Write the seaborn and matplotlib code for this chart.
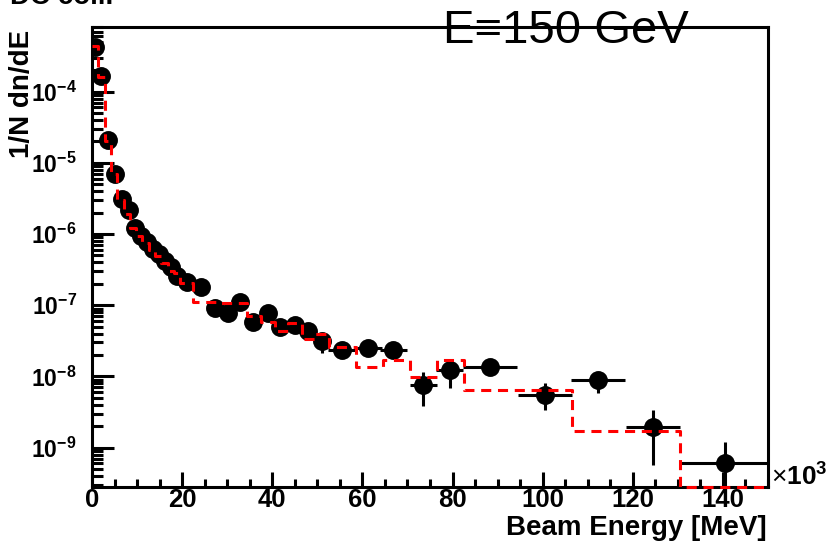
import matplotlib
matplotlib.use("Agg")
import matplotlib.pyplot as plt
import seaborn as sns
import numpy as np
from matplotlib.ticker import LogLocator, FuncFormatter, MultipleLocator, NullFormatter

# ---------------- data ----------------
# data points: bin centres (x10^3 MeV) and 1/N dn/dE
energy = [0.7, 2.0, 3.6, 5.2, 6.7, 8.1, 9.5, 10.9, 12.2, 13.5, 14.9, 16.2, 17.5, 18.9,
          21.1, 24.2, 27.3, 30.2, 32.8, 35.8, 39.1, 41.7, 45.0, 48.0, 51.0,
          55.4, 61.3, 66.8, 73.5, 79.4, 88.3, 100.5, 112.3, 124.5, 140.4]
dnde = [4.25e-4, 1.66e-4, 2.1e-5, 7.0e-6, 3.1e-6, 2.2e-6, 1.21e-6, 9.4e-7, 7.8e-7, 6.2e-7,
        5.2e-7, 4.2e-7, 3.45e-7, 2.6e-7, 2.1e-7, 1.8e-7, 9.2e-8, 7.8e-8, 1.11e-7, 5.9e-8,
        7.7e-8, 5.0e-8, 5.3e-8, 4.3e-8, 3.1e-8, 2.35e-8, 2.5e-8, 2.35e-8, 7.6e-9, 1.23e-8,
        1.37e-8, 5.5e-9, 8.9e-9, 1.97e-9, 6.0e-10]
# horizontal half bin widths
energy_err = [0.7] * 14 + [1.5] * 11 + [3.0] * 5 + [6.0] * 4 + [9.75]
# vertical errors (lower, upper); zero where hidden behind the marker
dnde_err_lo = [0] * 24 + [0.95e-8, 0, 0, 0, 3.8e-9, 5.4e-9, 0, 2.1e-9, 3.0e-9, 1.4e-9, 5.9e-10]
dnde_err_hi = [0] * 24 + [0, 0, 0, 0, 4.1e-9, 0, 0, 2.6e-9, 0, 1.43e-9, 6.0e-10]

# simulation histogram (red dashed): bin edges and contents
sim_edges = [0, 1.4, 2.8, 4.2, 5.6, 7.0, 8.4, 9.8, 11.2, 12.6, 14.0, 15.4, 16.8, 18.2, 19.5,
             22.5, 25.5, 28.5, 31.5, 34.5, 37.5, 40.5, 43.5, 46.5, 49.5, 52.5,
             58.5, 64.5, 70.5, 76.5, 82.5, 94.5, 106.5, 118.5, 130.5, 150]
sim_vals = [4.4e-4, 1.6e-4, 2.0e-5, 7.0e-6, 3.0e-6, 1.9e-6, 1.2e-6, 9.5e-7, 7.6e-7, 6.0e-7,
            4.9e-7, 3.9e-7, 3.0e-7, 2.8e-7,
            2.05e-7, 1.12e-7, 1.12e-7, 1.07e-7, 1.07e-7, 7.0e-8, 5.9e-8, 4.3e-8, 5.6e-8, 3.4e-8, 3.9e-8,
            2.6e-8, 1.36e-8, 1.7e-8, 9.9e-9, 1.7e-8, 6.5e-9, 6.4e-9, 1.74e-9, 1.74e-9, 2.8e-10]

x_ticks = [0, 20, 40, 60, 80, 100, 120, 140]
x_label = "Beam Energy [MeV]"
y_label = "1/N dn/dE"
title = "E=150 GeV"

# ---------------- style ----------------
sns.set_theme(style="white")
plt.rcParams['font.family'] = ['Liberation Sans', 'DejaVu Sans']
plt.rcParams['mathtext.fontset'] = 'custom'
plt.rcParams['mathtext.rm'] = 'Liberation Sans'
plt.rcParams['mathtext.bf'] = 'Liberation Sans:bold'
plt.rcParams['mathtext.it'] = 'Liberation Sans:italic'
for k in ['text.color', 'axes.labelcolor', 'xtick.color', 'ytick.color', 'axes.edgecolor']:
    plt.rcParams[k] = 'black'

W, H = 835, 545
fig = plt.figure(figsize=(W / 100, H / 100), dpi=100)
ax = fig.add_axes([92 / W, 1 - 487 / H, (768 - 92) / W, (487 - 27) / H])

# data error bars and markers
ax.errorbar(energy, dnde, xerr=energy_err, yerr=[dnde_err_lo, dnde_err_hi],
            fmt='none', ecolor='black', elinewidth=2.2, capsize=0, zorder=3)
sns.scatterplot(x=energy, y=dnde, ax=ax, color='black', s=185, linewidth=0, zorder=4)

# red dashed simulation histogram (drawn over the markers)
line_y = sim_vals + [sim_vals[-1]]
sns.lineplot(x=sim_edges, y=line_y, ax=ax, color='red', lw=2.2,
             drawstyle='steps-post', estimator=None, sort=False, zorder=6)
red = ax.get_lines()[-1]
red.set_dashes((3.3, 2.2))
red.set_clip_on(False)

ax.set_yscale('log')
ax.set_xlim(0, 150)
ax.set_ylim(2.8e-10, 8.1e-4)

ax.xaxis.set_major_locator(plt.FixedLocator(x_ticks))
ax.xaxis.set_minor_locator(MultipleLocator(5))
ax.set_xticklabels([str(v) for v in x_ticks], fontweight='bold', fontsize=18.5)

ax.yaxis.set_major_locator(LogLocator(base=10, numticks=20))
ax.yaxis.set_minor_locator(LogLocator(base=10, subs=np.arange(2, 10), numticks=20))
ax.yaxis.set_major_formatter(FuncFormatter(lambda v, p: r'$\mathbf{10^{%d}}$' % round(np.log10(v))))
ax.yaxis.set_minor_formatter(NullFormatter())

ax.tick_params(axis='both', which='both', direction='in', color='black', width=2.2,
               top=False, right=False, left=True, bottom=True, labelcolor='black')
ax.tick_params(axis='x', which='major', length=11, pad=1)
ax.tick_params(axis='x', which='minor', length=6)
ax.tick_params(axis='y', which='major', length=16, pad=11, labelsize=16.5)
ax.tick_params(axis='y', which='minor', length=8)

for sp in ax.spines.values():
    sp.set_visible(True)
    sp.set_color('black')
    sp.set_linewidth(2.2)
ax.grid(False)
ax.set_xlabel('')
ax.set_ylabel('')

fig.text(767 / W, 1 - 535 / H, x_label, ha='right', va='baseline',
         fontsize=20, fontweight='bold')
fig.text(22 / W, 1 - 30 / H, y_label, ha='center', va='top', rotation=90,
         fontsize=20, fontweight='bold')
fig.text(443 / W, 1 - 43 / H, title, ha='left', va='baseline', fontsize=34, zorder=0)
fig.text(771 / W, 1 - 486 / H, r'$\times$' + r'$\mathbf{10^{3}}$', ha='left',
         va='baseline', fontsize=19)
fig.text(10 / W, 1 - 4 / H, 'DC coll.', ha='left', va='baseline',
         fontsize=20, fontweight='bold')

fig.savefig('out.png', dpi=100, facecolor='white')
